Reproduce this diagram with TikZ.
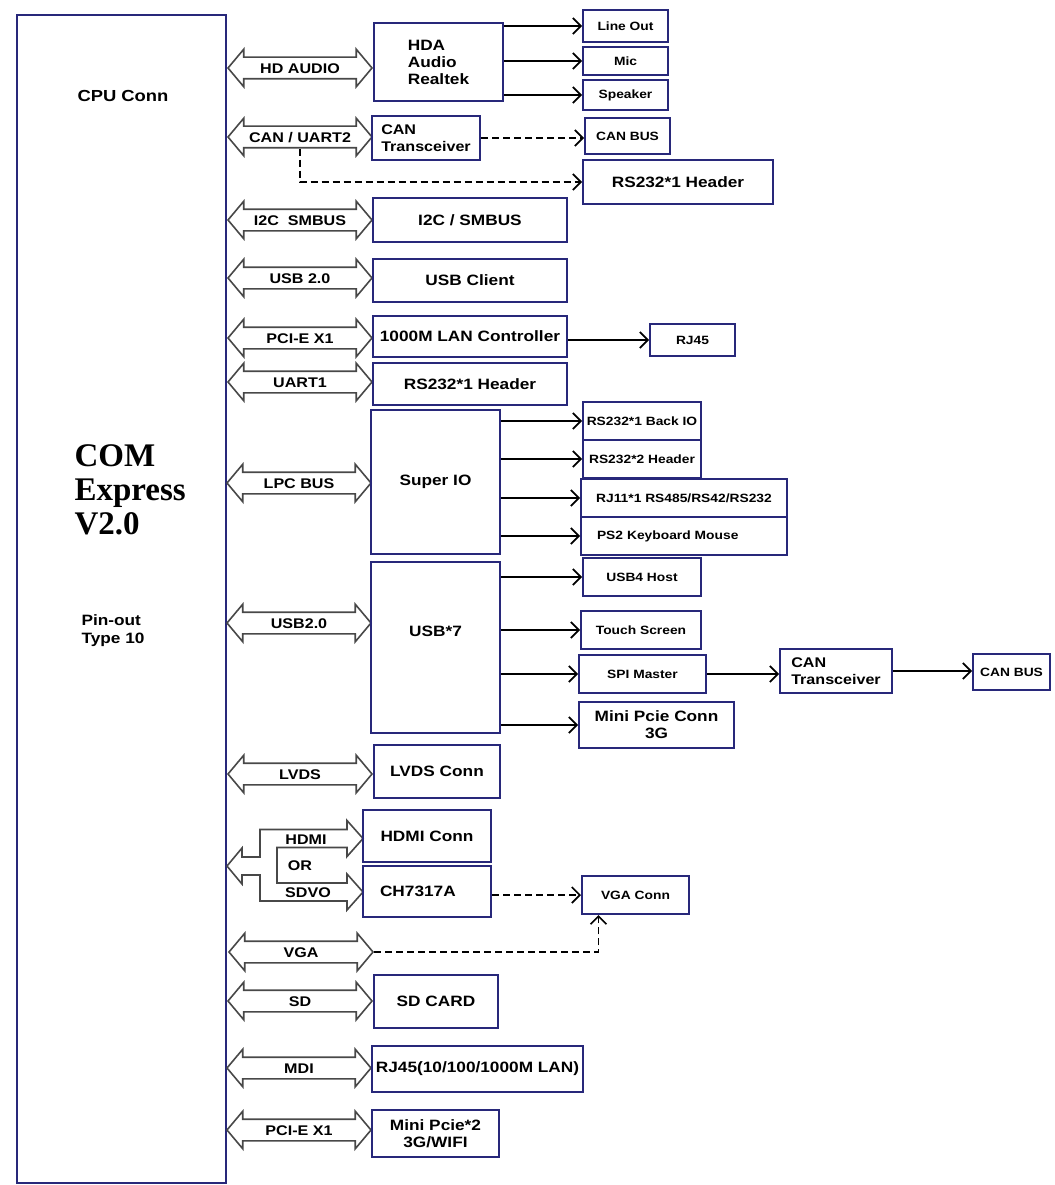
\documentclass[tikz,border=0pt]{standalone}
\usepackage{fontspec}
\setmainfont{Liberation Sans}[FakeStretch=1.15]
\newfontfamily\comfont{Liberation Serif}
\usetikzlibrary{arrows.meta,shapes.arrows}

\definecolor{boxblue}{RGB}{40,40,122}
\definecolor{busgray}{RGB}{72,72,72}

\tikzset{
  box/.style={draw=boxblue, line width=2pt, align=center, inner sep=0pt,
    font=\bfseries\fontsize{15}{17}\selectfont},
  small/.style={font=\bfseries\fontsize{12}{14}\selectfont},
  wh/.style 2 args={minimum width=#1pt, minimum height=#2pt},
  bus/.style={double arrow, draw=busgray, line width=1.6pt,
    double arrow head extend=8pt, double arrow tip angle=100,
    minimum height=144pt, text height=11pt, text depth=0pt,
    inner ysep=4.5pt, inner xsep=0pt, font=\bfseries\fontsize{14}{16}\selectfont},
  busline/.style={draw=busgray, line width=1.6pt, line join=miter},
  buslabel/.style={font=\bfseries\fontsize{14}{16}\selectfont},
  conn/.style={-{Straight Barb[length=8pt,width=16pt]}, line width=1.7pt},
  dashline/.style={dash pattern=on 7pt off 4pt},
}

\begin{document}
\begin{tikzpicture}[x=1pt, y=-1pt]
        \useasboundingbox (0,0) rectangle (1054,1185);

        % module
        \node[box, wh={209}{1168}] (cpu) at (121.5,599) {};
        \node[font=\bfseries\fontsize{16}{18}\selectfont] (cpuconn) at (123,96) {CPU Conn};
        \node[font=\comfont\bfseries\fontsize{33}{34}\selectfont, align=left, anchor=west] (com) at (71,490) {COM\\Express\\V2.0};
        \node[font=\bfseries\fontsize{15}{18}\selectfont, align=left] (pinout) at (113,631) {Pin-out\\Type 10};

        % buses
        \node[bus] (hdaudio) at (300,68) {HD AUDIO};
        \node[bus] (canuart) at (300,137) {CAN / UART2};
        \node[bus] (smbus) at (300,220) {I2C\ \ SMBUS};
        \node[bus] (usbbus) at (300,278) {USB 2.0};
        \node[bus] (pcie) at (300,338) {PCI-E X1};
        \node[bus] (uart) at (300,382) {UART1};
        \node[bus] (lpc) at (299,483) {LPC BUS};
        \node[bus] (usbhub) at (299,623) {USB2.0};
        \node[bus] (lvdsbus) at (300,774) {LVDS};
        \node[bus] (vgabus) at (301,952) {VGA};
        \node[bus] (sdbus) at (300,1001) {SD};
        \node[bus] (mdi) at (299,1068) {MDI};
        \node[bus] (pcie2) at (299,1130) {PCI-E X1};

        % HDMI or SDVO
        \draw[busline] (227,866) -- (242,848) -- (242,857) -- (260,857) -- (260,829.5)
            -- (347,829.5) -- (347,820.5) -- (363,838.5) -- (347,856.5) -- (347,847.5)
            -- (277,847.5) -- (277,883) -- (347,883) -- (347,874) -- (363,892)
            -- (347,910) -- (347,901) -- (260,901) -- (260,875) -- (242,875)
            -- (242,884) -- cycle;
        \node[buslabel] (hdmilbl) at (306,840) {HDMI};
        \node[buslabel] (orlbl) at (300,866) {OR};
        \node[buslabel] (sdvolbl) at (308,893) {SDVO};

        % first column
        \node[box, wh={129}{78}, align=left] (hda) at (438.5,62) {HDA\\Audio\\Realtek};
        \node[box, wh={108}{44}, align=left, font=\bfseries\fontsize{14}{17}\selectfont] (canx) at (426,138) {CAN\\Transceiver};
        \node[box, wh={194}{44}] (i2c) at (470,220) {I2C / SMBUS};
        \node[box, wh={194}{43}] (usbc) at (470,280.5) {USB Client};
        \node[box, wh={194}{41}] (lan) at (470,336.5) {1000M LAN Controller};
        \node[box, wh={194}{42}] (uarthdr) at (470,384) {RS232*1 Header};
        \node[box, wh={129}{144}] (superio) at (435.5,482) {Super IO};
        \node[box, wh={129}{171}, text depth=32pt] (usb7) at (435.5,647.5) {USB*7};
        \node[box, wh={126}{53}] (lvds) at (437,771.5) {LVDS Conn};
        \node[box, wh={128}{52}] (hdmi) at (427,836) {HDMI Conn};
        \node[box, wh={128}{51}, align=left, text width=94pt] (ch) at (427,891.5) {CH7317A};
        \node[box, wh={124}{53}] (sd) at (436,1001.5) {SD CARD};
        \node[box, wh={211}{46}] (rj45) at (477.5,1069) {RJ45(10/100/1000M LAN)};
        \node[box, wh={127}{47}] (minipcie2) at (435.5,1133.5) {Mini Pcie*2\\3G/WIFI};

        % second column
        \node[box, small, wh={85}{32}] (lineout) at (625.5,26) {Line Out};
        \node[box, small, wh={85}{28}] (mic) at (625.5,61) {Mic};
        \node[box, small, wh={85}{30}] (speaker) at (625.5,95) {Speaker};
        \node[box, small, wh={85}{36}] (canbus) at (627.5,136) {CAN BUS};
        \node[box, wh={190}{44}] (rshdr) at (678,182) {RS232*1 Header};
        \node[box, small, wh={85}{32}] (rj46) at (692.5,340) {RJ45};
        \node[box, small, wh={118}{38}] (backio) at (642,421) {RS232*1 Back IO};
        \node[box, small, wh={118}{38}] (hdr2) at (642,459) {RS232*2 Header};
        \node[box, small, wh={206}{38}] (rj11) at (684,498) {RJ11*1 RS485/RS42/RS232};
        \node[box, small, wh={206}{38}, align=left, text width=174pt] (ps2) at (684,536) {PS2 Keyboard Mouse};
        \node[box, small, wh={118}{38}] (usb4) at (642,577) {USB4 Host};
        \node[box, small, wh={120}{38}] (touch) at (641,630) {Touch Screen};
        \node[box, small, wh={127}{38}] (spi) at (642.5,674) {SPI Master};
        \node[box, wh={155}{46}] (minipcie) at (656.5,725) {Mini Pcie Conn\\3G};
        \node[box, small, wh={107}{38}] (vga) at (635.5,895) {VGA Conn};

        % third column
        \node[box, wh={112}{44}, align=left, font=\bfseries\fontsize{14}{17}\selectfont] (canx2) at (836,671) {CAN\\Transceiver};
        \node[box, small, wh={77}{36}] (canbus2) at (1011.5,672) {CAN BUS};

        \path [conn] (hda.east |- lineout) edge node {} (lineout);
        \path [conn] (hda.east |- mic) edge node {} (mic);
        \path [conn] (hda.east |- speaker) edge node {} (speaker);
        \path [conn, dashline] (canx.east) edge node {} (canbus.west |- canx.east);
        \draw [conn, dashline] (canuart.south) |- (rshdr.west);
        \path [conn] (lan.east |- rj46) edge node {} (rj46);
        \path [conn] (superio.east |- backio) edge node {} (backio);
        \path [conn] (superio.east |- hdr2) edge node {} (hdr2);
        \path [conn] (superio.east |- rj11) edge node {} (rj11);
        \path [conn] (superio.east |- ps2) edge node {} (ps2);
        \path [conn] (usb7.east |- usb4) edge node {} (usb4);
        \path [conn] (usb7.east |- touch) edge node {} (touch);
        \path [conn] (usb7.east |- spi) edge node {} (spi);
        \path [conn] (usb7.east |- minipcie) edge node {} (minipcie);
        \path [conn] (spi.east) edge node {} (canx2.west |- spi.east);
        \path [conn] (canx2.east) edge node {} (canbus2.west |- canx2.east);
        \path [conn, dashline] (ch.east |- vga) edge node {} (vga);
        \draw [conn, dashline] (vgabus.east) -| ([xshift=-37pt]vga.south);
\end{tikzpicture}
\end{document}
